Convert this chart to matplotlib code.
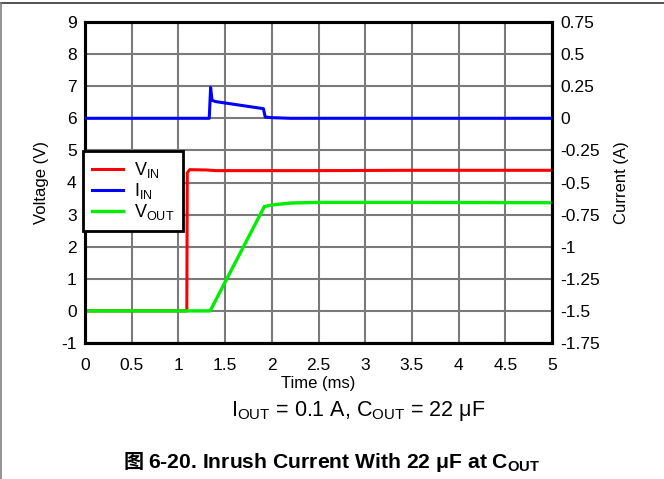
import matplotlib
matplotlib.use("Agg")
import matplotlib.pyplot as plt
from matplotlib.lines import Line2D
import numpy as np

plt.rcParams['font.family'] = ['Liberation Sans', 'Noto Sans CJK SC', 'DejaVu Sans']
plt.rcParams['axes.unicode_minus'] = False
plt.rcParams['mathtext.fontset'] = 'custom'
plt.rcParams['mathtext.rm'] = 'Liberation Sans'
plt.rcParams['mathtext.bf'] = 'Liberation Sans:bold'

# Data (time in ms)
t_vin = [0, 1.09, 1.095, 1.12, 1.3, 1.40, 2.5, 3.5, 5.0]
vin = [0, 0, 4.30, 4.40, 4.39, 4.37, 4.37, 4.38, 4.38]

t_vout = [0, 1.34, 1.92, 2.0, 2.2, 2.5, 3.5, 5.0]
vout = [0, 0, 3.25, 3.30, 3.36, 3.38, 3.38, 3.37]

t_iin = [0, 1.33, 1.345, 1.36, 1.40, 1.91, 1.93, 2.0, 2.2, 5.0]
iin = [0, 0, 0.24, 0.14, 0.13, 0.075, 0.01, 0.005, 0.0, 0.0]

x_ticks = [0, 0.5, 1, 1.5, 2, 2.5, 3, 3.5, 4, 4.5, 5]
x_labels = ['0', '0.5', '1', '1.5', '2', '2.5', '3', '3.5', '4', '4.5', '5']
v_ticks = [-1, 0, 1, 2, 3, 4, 5, 6, 7, 8, 9]
i_ticks = [-1.75, -1.5, -1.25, -1, -0.75, -0.5, -0.25, 0, 0.25, 0.5, 0.75]
i_labels = ['-1.75', '-1.5', '-1.25', '-1', '-0.75', '-0.5', '-0.25', '0', '0.25', '0.5', '0.75']

fig = plt.figure(figsize=(6.64, 4.79), dpi=100)
W, H = 664, 479
l, r, t, b = 85, 552, 22, 343
ax = fig.add_axes([l / W, 1 - b / H, (r - l) / W, (b - t) / H])
ax2 = ax.twinx()

ax.set_xlim(0, 5)
ax.set_ylim(-1, 9)
ax2.set_ylim(-1.75, 0.75)

ax.set_xticks(x_ticks)
ax.set_xticklabels(x_labels)
ax.set_yticks(v_ticks)
ax2.set_yticks(i_ticks)
ax2.set_yticklabels(i_labels)

ax.grid(True, color='#7a7a7a', linewidth=1.5)
ax.set_axisbelow(True)

for a in (ax, ax2):
    a.tick_params(length=0, labelsize=12.5, pad=6)
    for s in a.spines.values():
        s.set_linewidth(2.2)
        s.set_color('black')
ax.tick_params(axis='x', pad=11)

l1, = ax.plot(t_vin, vin, color='#ff0000', linewidth=2.2, zorder=3)
l3, = ax.plot(t_vout, vout, color='#00ee00', linewidth=2.4, zorder=3)
l2, = ax2.plot(t_iin, iin, color='#0000ff', linewidth=2.2, zorder=3)

ax.set_xlabel('Time (ms)', fontsize=12, labelpad=2)
ax.set_ylabel('Voltage (V)', fontsize=12, labelpad=9)
ax2.set_ylabel('Current (A)', fontsize=12, labelpad=10)

leg = ax2.legend([l1, l2, l3],
                 [r'$\mathregular{V_{IN}}$', r'$\mathregular{I_{IN}}$', r'$\mathregular{V_{OUT}}$'],
                 loc='upper left', bbox_to_anchor=(-0.004, 0.598), borderaxespad=0,
                 fancybox=False, framealpha=1, edgecolor='black', fontsize=13,
                 handlelength=1.7, handletextpad=0.6, labelspacing=0.05,
                 borderpad=0.5)
leg.get_frame().set_linewidth(2)

fig.text(358 / W, 1 - 411 / H, r'I$_{\mathregular{OUT}}$ = 0.1 A, C$_{\mathregular{OUT}}$ = 22 μF',
         ha='center', va='center', fontsize=15.5)

# Title: CJK glyph as its own text, rest with mathtext subscript
t_main = fig.text(0, 1 - 462 / H, r'6-20. Inrush Current With 22 μF at C$_{\mathbf{OUT}}$',
                  ha='left', va='center', fontsize=15.2, fontweight='bold')
t_cjk = fig.text(0, 1 - 461 / H, '图', ha='left', va='center', fontsize=14.5,
                 fontweight='bold', family=['Noto Sans CJK SC'])
fig.canvas.draw()
renderer = fig.canvas.get_renderer()
w_main = t_main.get_window_extent(renderer).width
w_cjk = t_cjk.get_window_extent(renderer).width
gap = 5
total = w_cjk + gap + w_main
x0 = 332 - total / 2
t_cjk.set_x(x0 / W)
t_main.set_x((x0 + w_cjk + gap) / W)

fig.add_artist(Line2D([0, 1], [1 - 3 / H, 1 - 3 / H], color='#333333', linewidth=1.2,
                      transform=fig.transFigure))
fig.add_artist(Line2D([1 / W, 1 / W], [0, 1 - 3 / H], color='#808080', linewidth=1.2,
                      transform=fig.transFigure))

fig.savefig('out.png', dpi=100)
